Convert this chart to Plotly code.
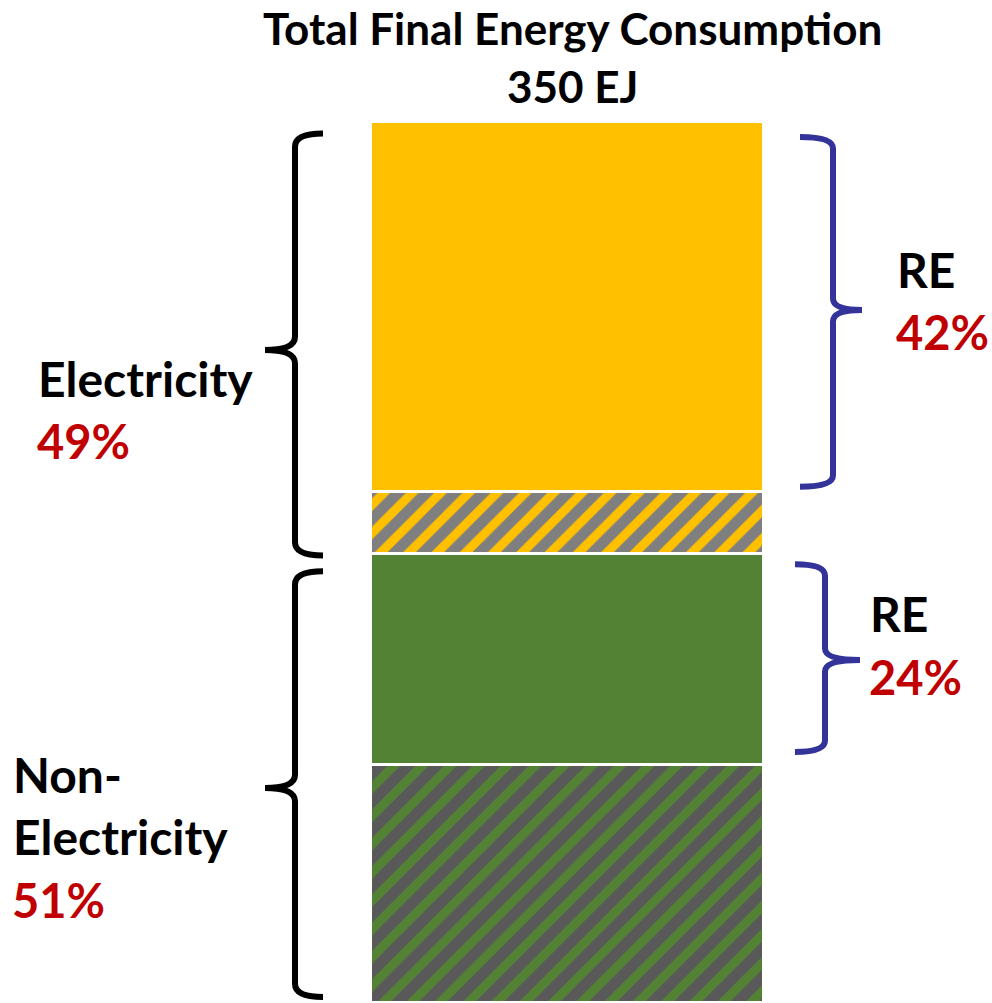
import plotly.graph_objects as go

# shares of total final energy consumption (%), bottom to top of the stack
segments = ["Non-electricity, non-RE", "Non-electricity RE", "Electricity, non-RE", "Electricity RE"]
shares = [27, 24, 7, 42]
base_colors = ["#595959", "#548235", "#7F7F7F", "#FFC000"]
stripe_colors = ["#548235", None, "#FFC000", None]

total_ej = 350
title_lines = ["Total Final Energy Consumption", f"{total_ej} EJ"]
group_names = [["Electricity"], ["Non-", "Electricity"]]
group_shares = [shares[2] + shares[3], shares[0] + shares[1]]
re_shares = [shares[3], shares[1]]

W, H = 992, 1003
# pixel helpers: the plot area fills the whole page
BAR_L, BAR_R = 371, 764
XC = (BAR_L + BAR_R) / 2
XS = BAR_R - BAR_L
Y_TOP_PX = 122
YS = (H - Y_TOP_PX) / 100.0


def px_x(p):
    return (p - XC) / XS


def px_y(p):
    return (H - p) / YS


fig = go.Figure()
for name, val, bc, sc in zip(segments, shares, base_colors, stripe_colors):
    marker = dict(color=bc, line=dict(color="white", width=3.5))
    if sc:
        marker["pattern"] = dict(shape="/", bgcolor=bc, fgcolor=sc, size=20, solidity=0.45, fillmode="replace")
    fig.add_trace(go.Bar(x=[0], y=[val], name=name, width=1, marker=marker, hoverinfo="name+y"))


def brace(spine, tip, point, y0, y1, ymid, r=1.5):
    return (f"M{tip},{y0} Q{spine},{y0} {spine},{y0 - r} "
            f"L{spine},{ymid + r} Q{spine},{ymid} {point},{ymid} "
            f"Q{spine},{ymid} {spine},{ymid - r} "
            f"L{spine},{y1 + r} Q{spine},{y1} {tip},{y1}")


shapes = []
# left black braces: electricity (top) and non-electricity (bottom)
elec_top = sum(shares)
elec_bot = shares[0] + shares[1]
shapes.append(dict(type="path", xref="x", yref="y", line=dict(color="black", width=6),
                   path=brace(px_x(295), px_x(323), px_x(265), elec_top - 1.3, elec_bot - 0.2, px_y(350))))
shapes.append(dict(type="path", xref="x", yref="y", line=dict(color="black", width=6),
                   path=brace(px_x(295), px_x(323), px_x(265), elec_bot - 2.0, px_y(997), px_y(788))))
# right blue braces: renewables within each group
blue = "#333399"
shapes.append(dict(type="path", xref="x", yref="y", line=dict(color=blue, width=6),
                   path=brace(px_x(833), px_x(800), px_x(862), elec_top - 1.7, elec_top - shares[3] + 0.6, px_y(310), r=1.3)))
shapes.append(dict(type="path", xref="x", yref="y", line=dict(color=blue, width=6),
                   path=brace(px_x(825), px_x(795), px_x(860), elec_bot - 1.2, shares[0] + 1.5, px_y(660), r=1.3)))

FONT = "Lato"
RED = "#C00000"
ann = []


def label(text, x, y, color="black", anchor="left", size=48):
    ann.append(dict(text=f"<b>{text}</b>", x=x, y=y, xref="paper", yref="paper",
                    xanchor=anchor, yanchor="middle", showarrow=False,
                    font=dict(family=FONT, size=size, color=color, weight=900)))


label(title_lines[0], 572 / W, 1 - 28 / H, anchor="center", size=44)
label(title_lines[1], 572 / W, 1 - 86 / H, anchor="center", size=44)

label(group_names[0][0], 36 / W, 1 - 379 / H)
label(f"{group_shares[0]}%", 35 / W, 1 - 441 / H, color=RED, size=47)
label(group_names[1][0], 11 / W, 1 - 774 / H)
label(f"{group_names[1][1]}", 11 / W, 1 - 836 / H)
label(f"{group_shares[1]}%", 10 / W, 1 - 900 / H, color=RED, size=47)

label("RE", 895 / W, 1 - 269 / H)
label(f"{re_shares[0]}%", 894 / W, 1 - 332 / H, color=RED, size=47)
label("RE", 868 / W, 1 - 613 / H)
label(f"{re_shares[1]}%", 867 / W, 1 - 677 / H, color=RED, size=47)

fig.update_layout(
    width=W, height=H,
    margin=dict(l=0, r=0, t=0, b=0),
    barmode="stack", bargap=0,
    showlegend=False,
    plot_bgcolor="white", paper_bgcolor="white",
    xaxis=dict(range=[px_x(0), px_x(W)], visible=False, fixedrange=True),
    yaxis=dict(range=[0, px_y(0)], visible=False, fixedrange=True),
    shapes=shapes,
    annotations=ann,
)

fig.write_html("out.html", post_script="document.body.style.margin='0';", config={"displayModeBar": False})
